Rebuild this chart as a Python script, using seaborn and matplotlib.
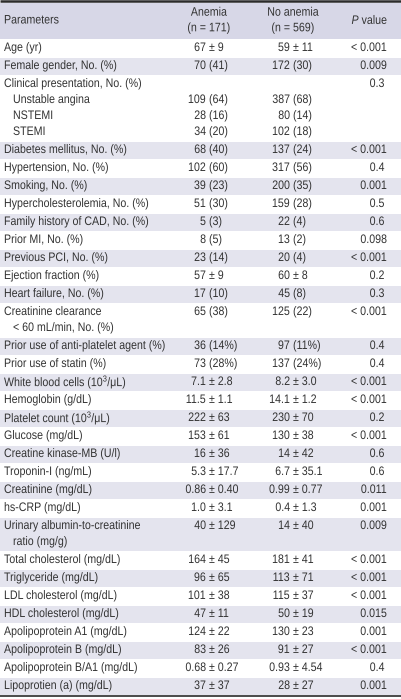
import matplotlib
matplotlib.use("Agg")
import matplotlib.pyplot as plt
from matplotlib import patheffects
from matplotlib.patches import Rectangle
from matplotlib.transforms import Affine2D
import seaborn as sns

# --- Datos de la tabla (una entrada por línea de texto) ---
line_labels = [
    "Age (yr)", "Female gender, No. (%)", "Clinical presentation, No. (%)",
    "  Unstable angina", "  NSTEMI", "  STEMI",
    "Diabetes mellitus, No. (%)", "Hypertension, No. (%)", "Smoking, No. (%)",
    "Hypercholesterolemia, No. (%)", "Family history of CAD, No. (%)",
    "Prior MI, No. (%)", "Previous PCI, No. (%)", "Ejection fraction (%)",
    "Heart failure, No. (%)", "Creatinine clearance", "  < 60 mL/min, No. (%)",
    "Prior use of anti-platelet agent (%)", "Prior use of statin (%)",
    "White blood cells (10$^3$/μL)", "Hemoglobin (g/dL)", "Platelet count (10$^3$/μL)",
    "Glucose (mg/dL)", "Creatine kinase-MB (U/l)", "Troponin-I (ng/mL)",
    "Creatinine (mg/dL)", "hs-CRP (mg/dL)", "Urinary albumin-to-creatinine",
    "  ratio (mg/g)", "Total cholesterol (mg/dL)", "Triglyceride (mg/dL)",
    "LDL cholesterol (mg/dL)", "HDL cholesterol (mg/dL)", "Apolipoprotein A1 (mg/dL)",
    "Apolipoprotein B (mg/dL)", "Apolipoprotein B/A1 (mg/dL)", "Lipoprotien (a) (mg/dL)",
]
anemia = [
    "67 ± 9", "70 (41)", "", "109 (64)", "28 (16)", "34 (20)",
    "68 (40)", "102 (60)", "39 (23)", "51 (30)", "5 (3)", "8 (5)", "23 (14)",
    "57 ± 9", "17 (10)", "65 (38)", "", "36 (14%)", "73 (28%)",
    "7.1 ± 2.8", "11.5 ± 1.1", "222 ± 63", "153 ± 61", "16 ± 36", "5.3 ± 17.7",
    "0.86 ± 0.40", "1.0 ± 3.1", "40 ± 129", "", "164 ± 45", "96 ± 65",
    "101 ± 38", "47 ± 11", "124 ± 22", "83 ± 26", "0.68 ± 0.27", "37 ± 37",
]
no_anemia = [
    "59 ± 11", "172 (30)", "", "387 (68)", "80 (14)", "102 (18)",
    "137 (24)", "317 (56)", "200 (35)", "159 (28)", "22 (4)", "13 (2)", "20 (4)",
    "60 ± 8", "45 (8)", "125 (22)", "", "97 (11%)", "137 (24%)",
    "8.2 ± 3.0", "14.1 ± 1.2", "230 ± 70", "130 ± 38", "14 ± 42", "6.7 ± 35.1",
    "0.99 ± 0.77", "0.4 ± 1.3", "14 ± 40", "", "181 ± 41", "113 ± 71",
    "115 ± 37", "50 ± 19", "130 ± 23", "91 ± 27", "0.93 ± 4.54", "28 ± 27",
]
p_values = [
    "< 0.001", "0.009", "0.3", "", "", "",
    "< 0.001", "0.4", "0.001", "0.5", "0.6", "0.098", "< 0.001",
    "0.2", "0.3", "< 0.001", "", "0.4", "0.4",
    "< 0.001", "< 0.001", "0.2", "< 0.001", "0.6", "0.6",
    "0.011", "0.001", "0.009", "", "< 0.001", "< 0.001",
    "< 0.001", "0.015", "0.001", "< 0.001", "0.4", "0.001",
]
# índice de fila (banda de color) de cada línea
row_of_line = [0, 1, 2, 2, 2, 2, 3, 4, 5, 6, 7, 8, 9, 10, 11, 12, 12, 13, 14,
               15, 16, 17, 18, 19, 20, 21, 22, 23, 23, 24, 25, 26, 27, 28, 29, 30, 31]
header_cols = ["Parameters", "Anemia\n(n = 171)", "No anemia\n(n = 569)", "$P$ value"]

# --- Estilo ---
sns.set_style("white")
FONT = "Liberation Sans"
plt.rcParams["font.family"] = [FONT, "DejaVu Sans"]
plt.rcParams["mathtext.fontset"] = "custom"
plt.rcParams["mathtext.rm"] = FONT
plt.rcParams["mathtext.it"] = FONT + ":italic"

TXT = "#333333"
HEAD_BG = "#d7d7e7"
SHADE_BG = "#e4e4ee"
FS = 8.9
SQUEEZE = 0.86   # la tabla original usa una fuente estrecha


class Narrow(patheffects.AbstractPathEffect):
    """Comprime el texto en horizontal alrededor del punto de alineación."""

    def __init__(self, sx, pivot="left"):
        super().__init__()
        self.sx, self.pivot = sx, pivot

    def draw_path(self, renderer, gc, tpath, affine, rgbFace=None):
        ext = tpath.get_extents()
        px = {"left": 0.0, "right": ext.x1, "center": (ext.x0 + ext.x1) / 2}[self.pivot]
        sq = Affine2D().translate(-px, 0).scale(self.sx, 1).translate(px, 0)
        renderer.draw_path(gc, tpath, sq + affine, rgbFace)


def txt(x, y, s, ha="left", **kw):
    ax.text(x, y, s, ha=ha, va="center", fontsize=FS, color=TXT,
            path_effects=[Narrow(SQUEEZE, ha)], **kw)


W, H = 401, 699
fig = plt.figure(figsize=(W / 100, H / 100), dpi=100)
ax = fig.add_axes([0, 0, 1, 1])
ax.set_xlim(0, W)
ax.set_ylim(H, 0)
ax.axis("off")

# geometría
top, head_h = 2.5, 36.0
row_h, extra_h = 18.0, 16.0
x_lab, x_a, x_n, x_p = 4, 209, 293, 387

# cabecera
ax.add_patch(Rectangle((0, top), W, head_h, color=HEAD_BG, lw=0))
hy = top + head_h / 2
txt(x_lab, hy, header_cols[0])
txt(x_a, hy, header_cols[1], ha="center", linespacing=1.4)
txt(x_n, hy, header_cols[2], ha="center", linespacing=1.4)
txt(370, hy, header_cols[3], ha="center")


def put_value(s, xa, y):
    # alinea en el "±" o en el "("
    if not s:
        return
    left, right = s.split(" ", 1)
    txt(xa - 3, y, left, ha="right")
    txt(xa, y, right)


# filas
y = top + head_h + 0.5
prev_row = -1
for i, lab in enumerate(line_labels):
    r = row_of_line[i]
    if r != prev_row:
        n_lines = row_of_line.count(r)
        h = row_h + (n_lines - 1) * extra_h
        if r % 2 == 1:
            ax.add_patch(Rectangle((0, y + 0.5), W, h - 1, color=SHADE_BG, lw=0))
        yline = y + row_h / 2
        y += h
        prev_row = r
    else:
        yline += extra_h
    indent = lab.startswith("  ")
    txt(x_lab + (9 if indent else 0), yline, lab.strip())
    put_value(anemia[i], x_a, yline)
    put_value(no_anemia[i], x_n, yline)
    pv = p_values[i]
    if pv:
        if len(pv) >= 5:
            txt(x_p, yline, pv, ha="right")
        else:
            txt(377, yline, pv, ha="center")

# bordes superior e inferior
ax.plot([0, W], [top / 2 + 0.2, top / 2 + 0.2], color="#2b2b2b", lw=1.8, solid_capstyle="butt")
ax.plot([0, W], [y + 0.8, y + 0.8], color="#2b2b2b", lw=1.2, solid_capstyle="butt")

fig.savefig("out.png", dpi=100, facecolor="white")
